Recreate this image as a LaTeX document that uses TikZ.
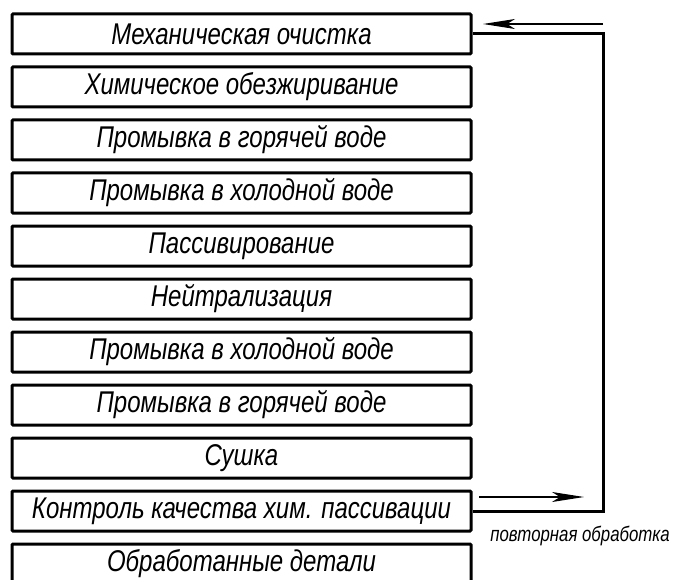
\documentclass[tikz,border=0pt]{standalone}
\usepackage{fontspec}
\setmainfont{Liberation Sans}[FakeStretch=0.8]
\usetikzlibrary{arrows.meta,positioning}
\tikzset{
  stage/.style={
    draw,
    line width=3pt,
    rounded corners=1pt,
    minimum width=459pt,
    minimum height=40pt,
    inner sep=0pt,
    font=\fontsize{30}{31}\selectfont\itshape
  },
  loopline/.style={
    line width=3pt
  },
  flow/.style={
    line width=1.2pt,
    -{Stealth[length=32pt,width=10pt,inset=8pt]}
  },
  note/.style={
    inner sep=0pt,
    font=\fontsize{21}{22}\selectfont\itshape
  }
}

\begin{document}
\begin{tikzpicture}[x=1pt,y=-1pt]
\useasboundingbox (0,0) rectangle (674,580);
      \foreach \i/\t in {1/Механическая очистка,
                         2/Химическое обезжиривание,
                         3/Промывка в горячей воде,
                         4/Промывка в холодной воде,
                         5/Пассивирование,
                         6/Нейтрализация,
                         7/Промывка в холодной воде,
                         8/Промывка в горячей воде,
                         9/Сушка,
                         10/Контроль качества хим. пассивации,
                         11/Обработанные детали}{
        \node[stage] (b\i) at (241.5,{34+(\i-1)*53}) {\t};
      }
% return loop
\coordinate (rt) at (603,34);
\coordinate (rb) at (603,511);
\draw[loopline] (b1.east) -- (rt) -- (rb) -- (b10.east);
\coordinate (in0) at (603,24);
\coordinate (in1) at (483,24);
\draw[flow] (in0) -- (in1);
\coordinate (out0) at (479,497);
\coordinate (out1) at (584,497);
\draw[flow] (out0) -- (out1);
\node[note] (redo) at (580,536) {повторная обработка};
\end{tikzpicture}
\end{document}
